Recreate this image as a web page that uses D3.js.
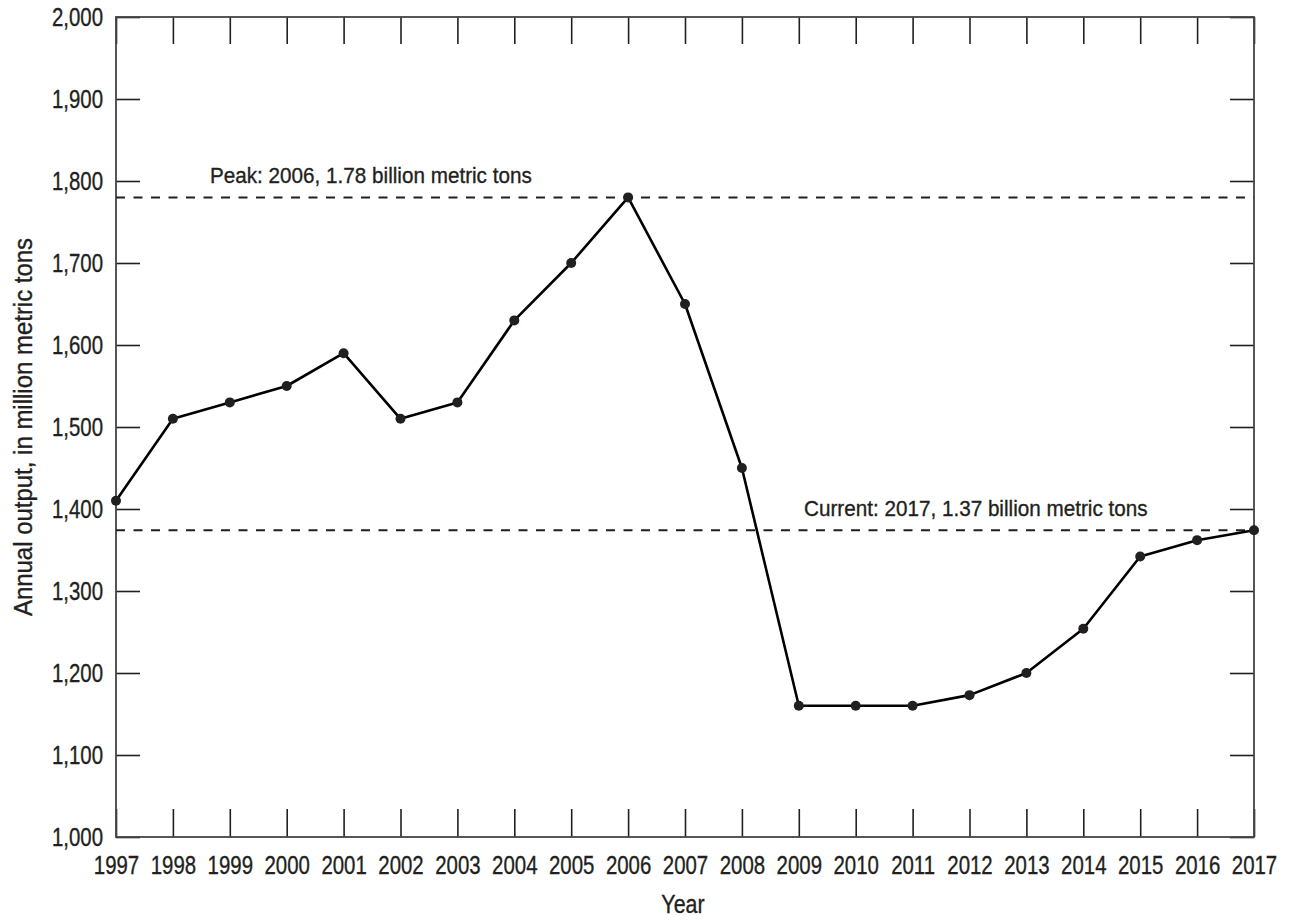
<!DOCTYPE html>
<html>
<head>
<meta charset="utf-8">
<script src="https://cdn.jsdelivr.net/npm/d3@7"></script>
<style>
  html, body { margin: 0; padding: 0; background: #fff; }
  svg text { font-family: "Liberation Sans", Arial, sans-serif; fill: #231f20; stroke: #231f20; stroke-width: 0.35px; }
</style>
</head>
<body>
<svg id="chart" width="1292" height="922"></svg>
<script>
// Annual output, 1997–2017, in million metric tons
const years = [1997, 1998, 1999, 2000, 2001, 2002, 2003, 2004, 2005, 2006, 2007,
               2008, 2009, 2010, 2011, 2012, 2013, 2014, 2015, 2016, 2017];
const output = [1410, 1510, 1530, 1550, 1590, 1510, 1530, 1630, 1700, 1780, 1650,
                1450, 1160, 1160, 1160, 1173, 1200, 1254, 1342, 1362, 1374];
const yTicks = [1000, 1100, 1200, 1300, 1400, 1500, 1600, 1700, 1800, 1900, 2000];
const yDomain = [1000, 2000];

const margin = { left: 116, right: 38, top: 17, bottom: 85 };
const W = 1292, H = 922;
const innerW = W - margin.left - margin.right;
const innerH = H - margin.top - margin.bottom;
const ink = "#231f20";
const tickFont = 25.5;
const noteFont = 22;

const svg = d3.select("#chart");
const g = svg.append("g").attr("transform", `translate(${margin.left},${margin.top})`);

const x = d3.scaleLinear().domain([years[0], years[years.length - 1]]).range([0, innerW]);
const y = d3.scaleLinear().domain(yDomain).range([innerH, 0]);

const fmt = d3.format(",");

// Narrow the lettering horizontally about each text's own anchor point
function condense(sel, s) {
  sel.each(function () {
    const t = d3.select(this);
    const tx = +t.attr("x") || 0;
    t.attr("transform", `translate(${tx * (1 - s)},0) scale(${s},1)`);
  });
}

function styleAxis(sel) {
  sel.select(".domain").remove();
  sel.selectAll(".tick line").attr("stroke", ink).attr("stroke-width", 1.6);
  sel.selectAll(".tick text").attr("font-size", tickFont).attr("fill", ink)
    .call(condense, 0.80);
}

// Left axis with inward ticks
g.append("g")
  .call(d3.axisLeft(y).tickValues(yTicks).tickFormat(fmt).tickSize(-24).tickPadding(13))
  .call(styleAxis);

// Right axis, ticks only
g.append("g").attr("transform", `translate(${innerW},0)`)
  .call(d3.axisRight(y).tickValues(yTicks).tickFormat("").tickSize(-24))
  .call(styleAxis);

// Bottom axis with inward ticks
g.append("g").attr("transform", `translate(0,${innerH})`)
  .call(d3.axisBottom(x).tickValues(years).tickFormat(d3.format("d")).tickSize(-28).tickPadding(19))
  .call(styleAxis);

// Top axis, ticks only
g.append("g")
  .call(d3.axisTop(x).tickValues(years).tickFormat("").tickSize(-27))
  .call(styleAxis);

// Plot frame
g.append("rect")
  .attr("x", 0).attr("y", 0).attr("width", innerW).attr("height", innerH)
  .attr("fill", "none").attr("stroke", "#444").attr("stroke-width", 1.8);

// Reference lines: peak and current
const peakIdx = output.indexOf(d3.max(output));
const lastIdx = output.length - 1;
const refs = [
  { year: years[peakIdx], value: output[peakIdx], label: "Peak", tx: 94, dy: -14.4 },
  { year: years[lastIdx], value: output[lastIdx], label: "Current", tx: 688, dy: -14 }
];

refs.forEach(r => {
  g.append("line")
    .attr("x1", 0).attr("x2", innerW)
    .attr("y1", y(r.value)).attr("y2", y(r.value))
    .attr("stroke", ink).attr("stroke-width", 2)
    .attr("stroke-dasharray", "9,8.5");
  g.append("text")
    .attr("x", r.tx).attr("y", y(r.value) + r.dy)
    .attr("font-size", noteFont)
    .text(`${r.label}: ${r.year}, ${d3.format(".2f")(r.value / 1000)} billion metric tons`)
    .call(condense, 0.94);
});

// Output line
const line = d3.line().x((d, i) => x(years[i])).y(d => y(d));
g.append("path")
  .datum(output)
  .attr("d", line)
  .attr("fill", "none")
  .attr("stroke", "#000")
  .attr("stroke-width", 2.6)
  .attr("stroke-linejoin", "round");

g.selectAll("circle.pt")
  .data(output)
  .join("circle")
  .attr("class", "pt")
  .attr("cx", (d, i) => x(years[i]))
  .attr("cy", d => y(d))
  .attr("r", 5)
  .attr("fill", ink);

// Axis titles
svg.append("text")
  .attr("x", 683).attr("y", 913)
  .attr("text-anchor", "middle")
  .attr("font-size", tickFont)
  .text("Year")
  .call(condense, 0.84);

svg.append("g")
  .attr("transform", `translate(32,${margin.top + innerH / 2}) rotate(-90)`)
  .append("text")
  .attr("x", 0).attr("y", 0)
  .attr("text-anchor", "middle")
  .attr("font-size", tickFont)
  .text("Annual output, in million metric tons")
  .call(condense, 0.94);
</script>
</body>
</html>
